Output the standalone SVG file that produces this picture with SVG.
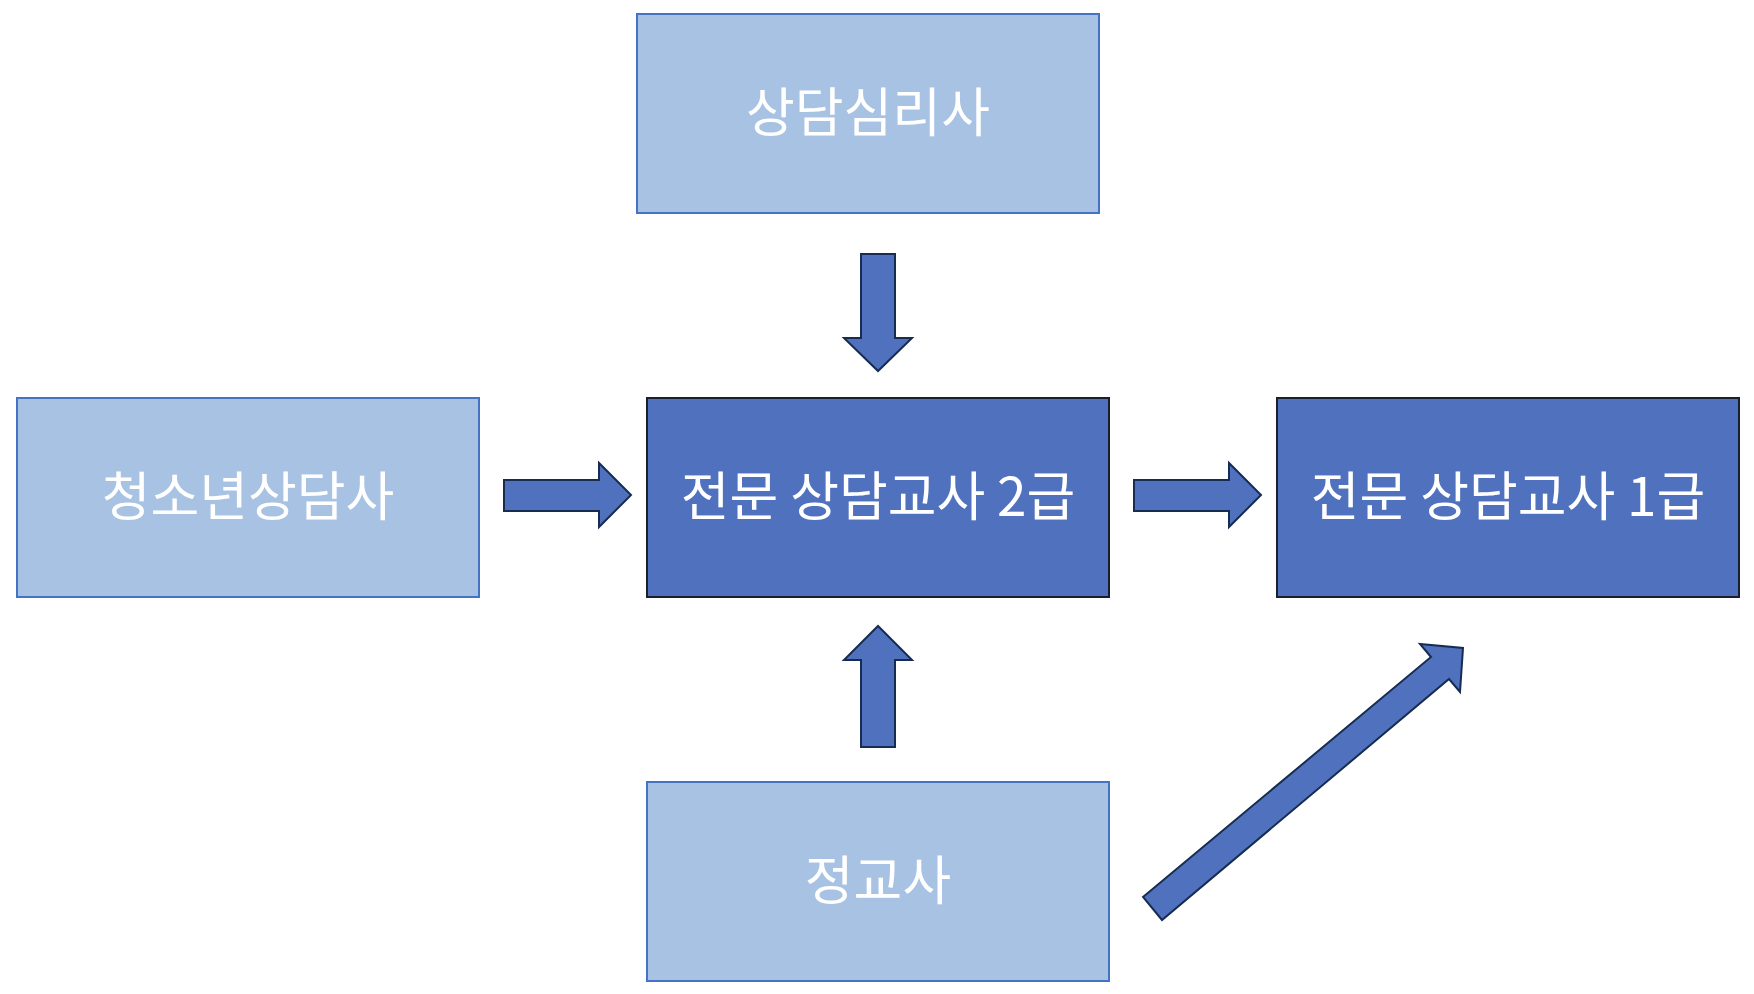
<svg xmlns="http://www.w3.org/2000/svg" width="1754" height="994" viewBox="0 0 1754 994">
<style>
.light{fill:#A7C2E3;stroke:#4472C4;stroke-width:2}
.dark{fill:#5072BE;stroke:#1A1F2E;stroke-width:2}
.lbl{font-family:"Noto Sans CJK KR","Noto Sans",sans-serif;font-size:53px;fill:#FFFFFF;text-anchor:middle;dominant-baseline:central}
.arr{fill:#5072BE;stroke:#172C51;stroke-width:2;stroke-linejoin:miter}
</style>
<rect width="1754" height="994" fill="#FFFFFF"/>
<g id="node-top">
<rect class="light" x="637" y="14" width="462" height="199"/>
<text class="lbl" x="868" y="109">상담심리사</text>
</g>
<g id="node-left">
<rect class="light" x="17" y="398" width="462" height="199"/>
<text class="lbl" x="248" y="493">청소년상담사</text>
</g>
<g id="node-center">
<rect class="dark" x="647" y="398" width="462" height="199"/>
<text class="lbl" x="878" y="493">전문 상담교사 2급</text>
</g>
<g id="node-right">
<rect class="dark" x="1277" y="398" width="462" height="199"/>
<text class="lbl" x="1508" y="493">전문 상담교사 1급</text>
</g>
<g id="node-bottom">
<rect class="light" x="647" y="782" width="462" height="199"/>
<text class="lbl" x="878" y="877">정교사</text>
</g>
<g id="connectors">
<polygon class="arr" points="861,254 895,254 895,338 912,338 878,371 844,338 861,338"/>
<polygon class="arr" points="504,480 599,480 599,463 631,495 599,527 599,511 504,511"/>
<polygon class="arr" points="1134,480 1229,480 1229,463 1261,495 1229,527 1229,511 1134,511"/>
<polygon class="arr" points="861,747 895,747 895,660 912,660 878,626 844,660 861,660"/>
<polygon class="arr" points="1143,897 1431,657 1420,644 1463,648 1460,692 1449,679 1162,920"/>
</g>
</svg>
